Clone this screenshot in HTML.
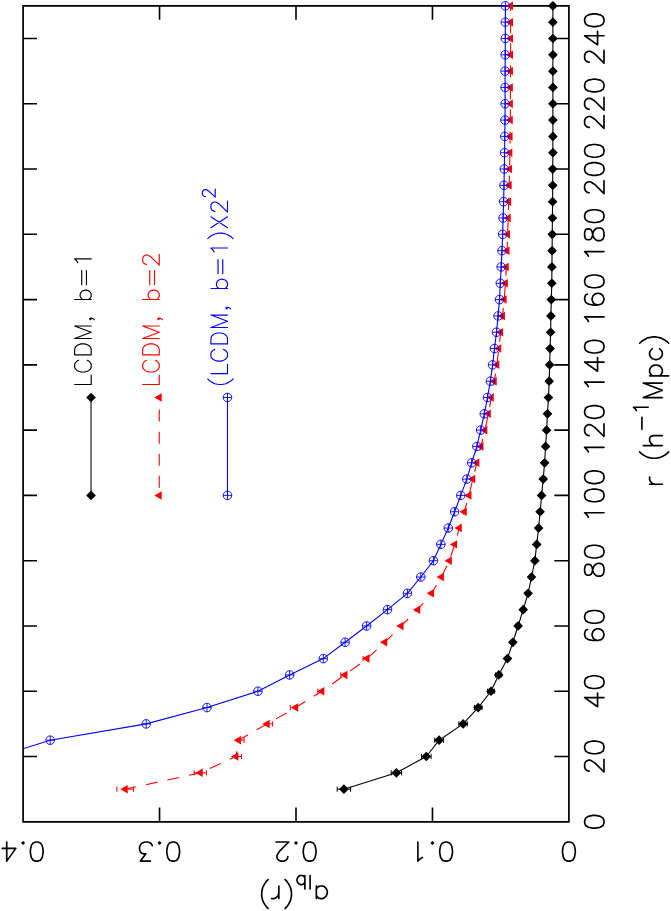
<!DOCTYPE html>
<html><head><meta charset="utf-8"><title>a_lb(r)</title>
<style>html,body{margin:0;padding:0;background:#fff;font-family:"Liberation Sans",sans-serif}svg{display:block}</style>
</head><body>
<svg width="671" height="911" viewBox="0 0 671 911">
<rect x="0" y="0" width="671" height="911" fill="#fff"/>
<defs><clipPath id="cp"><rect x="23.1" y="-0.15" width="545.8" height="821.95"/></clipPath></defs>
<path d="M23.1 5.85 H568.9 V821.8 H23.1 Z" fill="none" stroke="#000" stroke-width="1.7" stroke-linejoin="miter"/>
<path d="M23.1 756.52h13.9 M568.9 756.52h-14.6 M23.1 691.25h13.9 M568.9 691.25h-14.6 M23.1 625.97h13.9 M568.9 625.97h-14.6 M23.1 560.7h13.9 M568.9 560.7h-14.6 M23.1 495.42h13.9 M568.9 495.42h-14.6 M23.1 430.14h13.9 M568.9 430.14h-14.6 M23.1 364.87h13.9 M568.9 364.87h-14.6 M23.1 299.59h13.9 M568.9 299.59h-14.6 M23.1 234.32h13.9 M568.9 234.32h-14.6 M23.1 169.04h13.9 M568.9 169.04h-14.6 M23.1 103.76h13.9 M568.9 103.76h-14.6 M23.1 38.49h13.9 M568.9 38.49h-14.6 M432.45 5.85v13.9 M432.45 821.8v-14.2 M296 5.85v13.9 M296 821.8v-14.2 M159.55 5.85v13.9 M159.55 821.8v-14.2" fill="none" stroke="#000" stroke-width="1.6" stroke-linecap="butt"/>
<path d="M584.64 822.71 L585.56 825.44 L588.33 827.26 L592.94 828.17 L595.7 828.17 L600.31 827.26 L603.08 825.44 L604 822.71 L604 820.89 L603.08 818.16 L600.31 816.34 L595.7 815.43 L592.94 815.43 L588.33 816.34 L585.56 818.16 L584.64 820.89 L584.64 822.71 M589.25 771.08 L588.33 771.08 L586.48 770.17 L585.56 769.26 L584.64 767.44 L584.64 763.8 L585.56 761.98 L586.48 761.07 L588.33 760.16 L590.17 760.16 L592.01 761.07 L594.78 762.89 L604 771.99 L604 759.25 M584.64 748.33 L585.56 751.06 L588.33 752.88 L592.94 753.79 L595.7 753.79 L600.31 752.88 L603.08 751.06 L604 748.33 L604 746.51 L603.08 743.78 L600.31 741.96 L595.7 741.05 L592.94 741.05 L588.33 741.96 L585.56 743.78 L584.64 746.51 L584.64 748.33 M584.64 697.62 L597.55 706.72 L597.55 693.07 M584.64 697.62 L604 697.62 M584.64 683.06 L585.56 685.79 L588.33 687.61 L592.94 688.52 L595.7 688.52 L600.31 687.61 L603.08 685.79 L604 683.06 L604 681.24 L603.08 678.51 L600.31 676.69 L595.7 675.78 L592.94 675.78 L588.33 676.69 L585.56 678.51 L584.64 681.24 L584.64 683.06 M587.4 629.61 L585.56 630.52 L584.64 633.25 L584.64 635.07 L585.56 637.8 L588.33 639.62 L592.94 640.53 L597.55 640.53 L601.23 639.62 L603.08 637.8 L604 635.07 L604 634.16 L603.08 631.43 L601.23 629.61 L598.47 628.7 L597.55 628.7 L594.78 629.61 L592.94 631.43 L592.01 634.16 L592.01 635.07 L592.94 637.8 L594.78 639.62 L597.55 640.53 M584.64 617.78 L585.56 620.51 L588.33 622.33 L592.94 623.24 L595.7 623.24 L600.31 622.33 L603.08 620.51 L604 617.78 L604 615.96 L603.08 613.23 L600.31 611.41 L595.7 610.5 L592.94 610.5 L588.33 611.41 L585.56 613.23 L584.64 615.96 L584.64 617.78 M584.64 571.62 L585.56 574.35 L587.4 575.26 L589.25 575.26 L591.09 574.35 L592.01 572.53 L592.94 568.89 L593.86 566.16 L595.7 564.34 L597.55 563.43 L600.31 563.43 L602.16 564.34 L603.08 565.25 L604 567.98 L604 571.62 L603.08 574.35 L602.16 575.26 L600.31 576.17 L597.55 576.17 L595.7 575.26 L593.86 573.44 L592.94 570.71 L592.01 567.07 L591.09 565.25 L589.25 564.34 L587.4 564.34 L585.56 565.25 L584.64 567.98 L584.64 571.62 M584.64 552.51 L585.56 555.24 L588.33 557.06 L592.94 557.97 L595.7 557.97 L600.31 557.06 L603.08 555.24 L604 552.51 L604 550.69 L603.08 547.96 L600.31 546.14 L595.7 545.23 L592.94 545.23 L588.33 546.14 L585.56 547.96 L584.64 550.69 L584.64 552.51 M588.33 517.26 L587.4 515.44 L584.64 512.71 L604 512.71 M584.64 496.33 L585.56 499.06 L588.33 500.88 L592.94 501.79 L595.7 501.79 L600.31 500.88 L603.08 499.06 L604 496.33 L604 494.51 L603.08 491.78 L600.31 489.96 L595.7 489.05 L592.94 489.05 L588.33 489.96 L585.56 491.78 L584.64 494.51 L584.64 496.33 M584.64 478.13 L585.56 480.86 L588.33 482.68 L592.94 483.59 L595.7 483.59 L600.31 482.68 L603.08 480.86 L604 478.13 L604 476.31 L603.08 473.58 L600.31 471.76 L595.7 470.85 L592.94 470.85 L588.33 471.76 L585.56 473.58 L584.64 476.31 L584.64 478.13 M588.33 451.98 L587.4 450.16 L584.64 447.43 L604 447.43 M589.25 435.6 L588.33 435.6 L586.48 434.69 L585.56 433.78 L584.64 431.96 L584.64 428.32 L585.56 426.5 L586.48 425.59 L588.33 424.68 L590.17 424.68 L592.01 425.59 L594.78 427.41 L604 436.51 L604 423.77 M584.64 412.85 L585.56 415.58 L588.33 417.4 L592.94 418.31 L595.7 418.31 L600.31 417.4 L603.08 415.58 L604 412.85 L604 411.03 L603.08 408.3 L600.31 406.48 L595.7 405.57 L592.94 405.57 L588.33 406.48 L585.56 408.3 L584.64 411.03 L584.64 412.85 M588.33 386.71 L587.4 384.89 L584.64 382.16 L604 382.16 M584.64 362.14 L597.55 371.24 L597.55 357.59 M584.64 362.14 L604 362.14 M584.64 347.58 L585.56 350.31 L588.33 352.13 L592.94 353.04 L595.7 353.04 L600.31 352.13 L603.08 350.31 L604 347.58 L604 345.76 L603.08 343.03 L600.31 341.21 L595.7 340.3 L592.94 340.3 L588.33 341.21 L585.56 343.03 L584.64 345.76 L584.64 347.58 M588.33 321.43 L587.4 319.61 L584.64 316.88 L604 316.88 M587.4 294.13 L585.56 295.04 L584.64 297.77 L584.64 299.59 L585.56 302.32 L588.33 304.14 L592.94 305.05 L597.55 305.05 L601.23 304.14 L603.08 302.32 L604 299.59 L604 298.68 L603.08 295.95 L601.23 294.13 L598.47 293.22 L597.55 293.22 L594.78 294.13 L592.94 295.95 L592.01 298.68 L592.01 299.59 L592.94 302.32 L594.78 304.14 L597.55 305.05 M584.64 282.3 L585.56 285.03 L588.33 286.85 L592.94 287.76 L595.7 287.76 L600.31 286.85 L603.08 285.03 L604 282.3 L604 280.48 L603.08 277.75 L600.31 275.93 L595.7 275.02 L592.94 275.02 L588.33 275.93 L585.56 277.75 L584.64 280.48 L584.64 282.3 M588.33 256.16 L587.4 254.34 L584.64 251.61 L604 251.61 M584.64 236.14 L585.56 238.87 L587.4 239.78 L589.25 239.78 L591.09 238.87 L592.01 237.05 L592.94 233.41 L593.86 230.68 L595.7 228.86 L597.55 227.95 L600.31 227.95 L602.16 228.86 L603.08 229.77 L604 232.5 L604 236.14 L603.08 238.87 L602.16 239.78 L600.31 240.69 L597.55 240.69 L595.7 239.78 L593.86 237.96 L592.94 235.23 L592.01 231.59 L591.09 229.77 L589.25 228.86 L587.4 228.86 L585.56 229.77 L584.64 232.5 L584.64 236.14 M584.64 217.03 L585.56 219.76 L588.33 221.58 L592.94 222.49 L595.7 222.49 L600.31 221.58 L603.08 219.76 L604 217.03 L604 215.21 L603.08 212.48 L600.31 210.66 L595.7 209.75 L592.94 209.75 L588.33 210.66 L585.56 212.48 L584.64 215.21 L584.64 217.03 M589.25 192.7 L588.33 192.7 L586.48 191.79 L585.56 190.88 L584.64 189.06 L584.64 185.42 L585.56 183.6 L586.48 182.69 L588.33 181.78 L590.17 181.78 L592.01 182.69 L594.78 184.51 L604 193.61 L604 180.87 M584.64 169.95 L585.56 172.68 L588.33 174.5 L592.94 175.41 L595.7 175.41 L600.31 174.5 L603.08 172.68 L604 169.95 L604 168.13 L603.08 165.4 L600.31 163.58 L595.7 162.67 L592.94 162.67 L588.33 163.58 L585.56 165.4 L584.64 168.13 L584.64 169.95 M584.64 151.75 L585.56 154.48 L588.33 156.3 L592.94 157.21 L595.7 157.21 L600.31 156.3 L603.08 154.48 L604 151.75 L604 149.93 L603.08 147.2 L600.31 145.38 L595.7 144.47 L592.94 144.47 L588.33 145.38 L585.56 147.2 L584.64 149.93 L584.64 151.75 M589.25 127.42 L588.33 127.42 L586.48 126.51 L585.56 125.6 L584.64 123.78 L584.64 120.14 L585.56 118.32 L586.48 117.41 L588.33 116.5 L590.17 116.5 L592.01 117.41 L594.78 119.23 L604 128.33 L604 115.59 M589.25 109.22 L588.33 109.22 L586.48 108.31 L585.56 107.4 L584.64 105.58 L584.64 101.94 L585.56 100.12 L586.48 99.21 L588.33 98.3 L590.17 98.3 L592.01 99.21 L594.78 101.03 L604 110.13 L604 97.39 M584.64 86.47 L585.56 89.2 L588.33 91.02 L592.94 91.93 L595.7 91.93 L600.31 91.02 L603.08 89.2 L604 86.47 L604 84.65 L603.08 81.92 L600.31 80.1 L595.7 79.19 L592.94 79.19 L588.33 80.1 L585.56 81.92 L584.64 84.65 L584.64 86.47 M589.25 62.15 L588.33 62.15 L586.48 61.24 L585.56 60.33 L584.64 58.51 L584.64 54.87 L585.56 53.05 L586.48 52.14 L588.33 51.23 L590.17 51.23 L592.01 52.14 L594.78 53.96 L604 63.06 L604 50.32 M584.64 35.76 L597.55 44.86 L597.55 31.21 M584.64 35.76 L604 35.76 M584.64 21.2 L585.56 23.93 L588.33 25.75 L592.94 26.66 L595.7 26.66 L600.31 25.75 L603.08 23.93 L604 21.2 L604 19.38 L603.08 16.65 L600.31 14.83 L595.7 13.92 L592.94 13.92 L588.33 14.83 L585.56 16.65 L584.64 19.38 L584.64 21.2" fill="none" stroke="#000" stroke-width="1.65" stroke-linecap="round" stroke-linejoin="round"/>
<path d="M569.81 861.11 L572.54 860.2 L574.36 857.47 L575.27 852.92 L575.27 850.19 L574.36 845.64 L572.54 842.91 L569.81 842 L567.99 842 L565.26 842.91 L563.44 845.64 L562.53 850.19 L562.53 852.92 L563.44 857.47 L565.26 860.2 L567.99 861.11 L569.81 861.11 M447.01 861.11 L449.74 860.2 L451.56 857.47 L452.47 852.92 L452.47 850.19 L451.56 845.64 L449.74 842.91 L447.01 842 L445.19 842 L442.46 842.91 L440.64 845.64 L439.73 850.19 L439.73 852.92 L440.64 857.47 L442.46 860.2 L445.19 861.11 L447.01 861.11 M432.45 843.82 L433.36 842.91 L432.45 842 L431.54 842.91 L432.45 843.82 M422.44 857.47 L420.62 858.38 L417.89 861.11 L417.89 842 M310.56 861.11 L313.29 860.2 L315.11 857.47 L316.02 852.92 L316.02 850.19 L315.11 845.64 L313.29 842.91 L310.56 842 L308.74 842 L306.01 842.91 L304.19 845.64 L303.28 850.19 L303.28 852.92 L304.19 857.47 L306.01 860.2 L308.74 861.11 L310.56 861.11 M296 843.82 L296.91 842.91 L296 842 L295.09 842.91 L296 843.82 M287.81 856.56 L287.81 857.47 L286.9 859.29 L285.99 860.2 L284.17 861.11 L280.53 861.11 L278.71 860.2 L277.8 859.29 L276.89 857.47 L276.89 855.65 L277.8 853.83 L279.62 851.1 L288.72 842 L275.98 842 M174.11 861.11 L176.84 860.2 L178.66 857.47 L179.57 852.92 L179.57 850.19 L178.66 845.64 L176.84 842.91 L174.11 842 L172.29 842 L169.56 842.91 L167.74 845.64 L166.83 850.19 L166.83 852.92 L167.74 857.47 L169.56 860.2 L172.29 861.11 L174.11 861.11 M159.55 843.82 L160.46 842.91 L159.55 842 L158.64 842.91 L159.55 843.82 M150.45 861.11 L140.44 861.11 L145.9 853.83 L143.17 853.83 L141.35 852.92 L140.44 852.01 L139.53 849.28 L139.53 847.46 L140.44 844.73 L142.26 842.91 L144.99 842 L147.72 842 L150.45 842.91 L151.36 843.82 L152.27 845.64 M37.66 861.11 L40.39 860.2 L42.21 857.47 L43.12 852.92 L43.12 850.19 L42.21 845.64 L40.39 842.91 L37.66 842 L35.84 842 L33.11 842.91 L31.29 845.64 L30.38 850.19 L30.38 852.92 L31.29 857.47 L33.11 860.2 L35.84 861.11 L37.66 861.11 M23.1 843.82 L24.01 842.91 L23.1 842 L22.19 842.91 L23.1 843.82 M6.72 861.11 L15.82 848.37 L2.17 848.37 M6.72 861.11 L6.72 842" fill="none" stroke="#000" stroke-width="1.65" stroke-linecap="round" stroke-linejoin="round"/>
<path d="M649.63 484.28 L662.3 484.28 M655.06 484.28 L652.34 483.38 L650.53 481.56 L649.63 479.75 L649.63 477.04 M639.67 451.94 L641.48 453.75 L644.2 455.56 L647.82 457.38 L652.34 458.28 L655.96 458.28 L660.49 457.38 L664.11 455.56 L666.82 453.75 L668.63 451.94 M643.29 445.58 L662.3 445.58 M653.25 445.58 L650.53 442.87 L649.63 441.06 L649.63 438.34 L650.53 436.53 L653.25 435.62 L662.3 435.62 M641.9 429.32 L641.9 417.26 M636.3 410.56 L635.6 409.22 L633.5 407.21 L648.2 407.21 M643.29 397.58 L662.3 397.58 M643.29 397.58 L662.3 390.34 M643.29 383.1 L662.3 390.34 M643.29 383.1 L662.3 383.1 M649.63 375.86 L668.63 375.86 M652.34 375.86 L650.53 374.05 L649.63 372.24 L649.63 369.52 L650.53 367.71 L652.34 365.9 L655.06 365 L656.87 365 L659.58 365.9 L661.39 367.71 L662.3 369.52 L662.3 372.24 L661.39 374.05 L659.58 375.86 M652.34 348.71 L650.53 350.52 L649.63 352.33 L649.63 355.04 L650.53 356.86 L652.34 358.66 L655.06 359.57 L656.87 359.57 L659.58 358.66 L661.39 356.86 L662.3 355.04 L662.3 352.33 L661.39 350.52 L659.58 348.71 M639.67 343.28 L641.48 341.47 L644.2 339.66 L647.82 337.85 L652.34 336.94 L655.96 336.94 L660.49 337.85 L664.11 339.66 L666.82 341.47 L668.63 343.28" fill="none" stroke="#000" stroke-width="1.65" stroke-linecap="round" stroke-linejoin="round"/>
<path d="M316.35 898.55 L316.35 885.95 M316.35 895.85 L318.17 897.65 L319.99 898.55 L322.72 898.55 L324.54 897.65 L326.36 895.85 L327.27 893.15 L327.27 891.35 L326.36 888.65 L324.54 886.85 L322.72 885.95 L319.99 885.95 L318.17 886.85 L316.35 888.65 M310.09 889.1 L310.09 875.45 M304.88 889.1 L304.88 875.45 M304.88 882.6 L303.57 883.9 L302.27 884.55 L300.31 884.55 L299.01 883.9 L297.7 882.6 L297.05 880.65 L297.05 879.35 L297.7 877.4 L299.01 876.1 L300.31 875.45 L302.27 875.45 L303.57 876.1 L304.88 877.4 M285.09 908.45 L286.91 906.65 L288.73 903.95 L290.55 900.35 L291.46 895.85 L291.46 892.25 L290.55 887.75 L288.73 884.15 L286.91 881.45 L285.09 879.65 M278.86 898.55 L278.86 885.95 M278.86 893.15 L277.95 895.85 L276.13 897.65 L274.31 898.55 L271.58 898.55 M268.07 908.45 L266.25 906.65 L264.43 903.95 L262.61 900.35 L261.7 895.85 L261.7 892.25 L262.61 887.75 L264.43 884.15 L266.25 881.45 L268.07 879.65" fill="none" stroke="#000" stroke-width="1.65" stroke-linecap="round" stroke-linejoin="round"/>
<polyline points="343.9,789.16 396.4,772.84 426.3,756.52 439.1,740.2 463.1,723.89 478.2,707.57 491,691.25 498.7,674.93 507.45,658.61 512.8,642.29 518.1,625.97 523.2,609.65 528.1,593.33 531.5,577.01 534.85,560.7 536.7,544.38 538.6,528.06 540.1,511.74 541.6,495.42 543.2,479.1 544.6,462.78 545.6,446.46 546.6,430.14 547.5,413.82 548.4,397.51 549.2,381.19 549.65,364.87 550.1,348.55 550.6,332.23 550.9,315.91 551.3,299.59 551.8,283.27 551.9,266.95 552.1,250.63 552.25,234.32 552.4,218 552.6,201.68 552.7,185.36 552.7,169.04 552.9,152.72 552.9,136.4 552.9,120.08 552.9,103.76 552.9,87.45 552.9,71.13 552.9,54.81 552.9,38.49 552.9,22.17 552.9,5.85" fill="none" stroke="#000" stroke-width="1.1" stroke-linejoin="round"/>
<path d="M337.2 789.16H350.6 M337.2 786.56v5.2 M350.6 786.56v5.2 M391.2 772.84H401.6 M391.2 770.24v5.2 M401.6 770.24v5.2 M421.5 756.52H431.1 M421.5 753.92v5.2 M431.1 753.92v5.2 M434.7 740.2H443.5 M434.7 737.6v5.2 M443.5 737.6v5.2 M458.9 723.89H467.3 M458.9 721.29v5.2 M467.3 721.29v5.2 M474.4 707.57H482 M474.4 704.97v5.2 M482 704.97v5.2 M487.6 691.25H494.4 M487.6 688.65v5.2 M494.4 688.65v5.2 M495.7 674.93H501.7 M495.7 672.33v5.2 M501.7 672.33v5.2 M505.65 658.61H509.25 M505.65 656.01v5.2 M509.25 656.01v5.2 M511 642.29H514.6 M511 639.69v5.2 M514.6 639.69v5.2 M516.3 625.97H519.9 M516.3 623.37v5.2 M519.9 623.37v5.2 M521.4 609.65H525 M521.4 607.05v5.2 M525 607.05v5.2 M526.3 593.33H529.9 M526.3 590.73v5.2 M529.9 590.73v5.2 M529.7 577.01H533.3 M529.7 574.41v5.2 M533.3 574.41v5.2 M533.05 560.7H536.65 M533.05 558.1v5.2 M536.65 558.1v5.2 M534.9 544.38H538.5 M534.9 541.78v5.2 M538.5 541.78v5.2 M536.8 528.06H540.4 M536.8 525.46v5.2 M540.4 525.46v5.2 M538.3 511.74H541.9 M538.3 509.14v5.2 M541.9 509.14v5.2 M539.8 495.42H543.4 M539.8 492.82v5.2 M543.4 492.82v5.2 M541.4 479.1H545 M541.4 476.5v5.2 M545 476.5v5.2 M542.8 462.78H546.4 M542.8 460.18v5.2 M546.4 460.18v5.2 M543.8 446.46H547.4 M543.8 443.86v5.2 M547.4 443.86v5.2 M544.8 430.14H548.4 M544.8 427.54v5.2 M548.4 427.54v5.2 M545.7 413.82H549.3 M545.7 411.22v5.2 M549.3 411.22v5.2 M546.6 397.51H550.2 M546.6 394.91v5.2 M550.2 394.91v5.2 M547.4 381.19H551 M547.4 378.59v5.2 M551 378.59v5.2 M547.85 364.87H551.45 M547.85 362.27v5.2 M551.45 362.27v5.2 M548.3 348.55H551.9 M548.3 345.95v5.2 M551.9 345.95v5.2 M548.8 332.23H552.4 M548.8 329.63v5.2 M552.4 329.63v5.2 M549.1 315.91H552.7 M549.1 313.31v5.2 M552.7 313.31v5.2 M549.5 299.59H553.1 M549.5 296.99v5.2 M553.1 296.99v5.2 M550 283.27H553.6 M550 280.67v5.2 M553.6 280.67v5.2 M550.1 266.95H553.7 M550.1 264.35v5.2 M553.7 264.35v5.2 M550.3 250.63H553.9 M550.3 248.03v5.2 M553.9 248.03v5.2 M550.45 234.32H554.05 M550.45 231.72v5.2 M554.05 231.72v5.2 M550.6 218H554.2 M550.6 215.4v5.2 M554.2 215.4v5.2 M550.8 201.68H554.4 M550.8 199.08v5.2 M554.4 199.08v5.2 M550.9 185.36H554.5 M550.9 182.76v5.2 M554.5 182.76v5.2 M550.9 169.04H554.5 M550.9 166.44v5.2 M554.5 166.44v5.2 M551.1 152.72H554.7 M551.1 150.12v5.2 M554.7 150.12v5.2 M551.1 136.4H554.7 M551.1 133.8v5.2 M554.7 133.8v5.2 M551.1 120.08H554.7 M551.1 117.48v5.2 M554.7 117.48v5.2 M551.1 103.76H554.7 M551.1 101.16v5.2 M554.7 101.16v5.2 M551.1 87.45H554.7 M551.1 84.85v5.2 M554.7 84.85v5.2 M551.1 71.13H554.7 M551.1 68.53v5.2 M554.7 68.53v5.2 M551.1 54.81H554.7 M551.1 52.21v5.2 M554.7 52.21v5.2 M551.1 38.49H554.7 M551.1 35.89v5.2 M554.7 35.89v5.2 M551.1 22.17H554.7 M551.1 19.57v5.2 M554.7 19.57v5.2 M551.1 5.85H554.7 M551.1 3.25v5.2 M554.7 3.25v5.2" fill="none" stroke="#000" stroke-width="1"/>
<path d="M339.05 789.16L343.9 784.31L348.75 789.16L343.9 794.01Z M391.55 772.84L396.4 767.99L401.25 772.84L396.4 777.69Z M421.45 756.52L426.3 751.67L431.15 756.52L426.3 761.37Z M434.25 740.2L439.1 735.35L443.95 740.2L439.1 745.05Z M458.25 723.89L463.1 719.04L467.95 723.89L463.1 728.74Z M473.35 707.57L478.2 702.72L483.05 707.57L478.2 712.42Z M486.15 691.25L491 686.4L495.85 691.25L491 696.1Z M493.85 674.93L498.7 670.08L503.55 674.93L498.7 679.78Z M502.6 658.61L507.45 653.76L512.3 658.61L507.45 663.46Z M507.95 642.29L512.8 637.44L517.65 642.29L512.8 647.14Z M513.25 625.97L518.1 621.12L522.95 625.97L518.1 630.82Z M518.35 609.65L523.2 604.8L528.05 609.65L523.2 614.5Z M523.25 593.33L528.1 588.48L532.95 593.33L528.1 598.18Z M526.65 577.01L531.5 572.16L536.35 577.01L531.5 581.87Z M530 560.7L534.85 555.85L539.7 560.7L534.85 565.55Z M531.85 544.38L536.7 539.53L541.55 544.38L536.7 549.23Z M533.75 528.06L538.6 523.21L543.45 528.06L538.6 532.91Z M535.25 511.74L540.1 506.89L544.95 511.74L540.1 516.59Z M536.75 495.42L541.6 490.57L546.45 495.42L541.6 500.27Z M538.35 479.1L543.2 474.25L548.05 479.1L543.2 483.95Z M539.75 462.78L544.6 457.93L549.45 462.78L544.6 467.63Z M540.75 446.46L545.6 441.61L550.45 446.46L545.6 451.31Z M541.75 430.14L546.6 425.29L551.45 430.14L546.6 434.99Z M542.65 413.82L547.5 408.97L552.35 413.82L547.5 418.68Z M543.55 397.51L548.4 392.66L553.25 397.51L548.4 402.36Z M544.35 381.19L549.2 376.34L554.05 381.19L549.2 386.04Z M544.8 364.87L549.65 360.02L554.5 364.87L549.65 369.72Z M545.25 348.55L550.1 343.7L554.95 348.55L550.1 353.4Z M545.75 332.23L550.6 327.38L555.45 332.23L550.6 337.08Z M546.05 315.91L550.9 311.06L555.75 315.91L550.9 320.76Z M546.45 299.59L551.3 294.74L556.15 299.59L551.3 304.44Z M546.95 283.27L551.8 278.42L556.65 283.27L551.8 288.12Z M547.05 266.95L551.9 262.1L556.75 266.95L551.9 271.8Z M547.25 250.63L552.1 245.78L556.95 250.63L552.1 255.48Z M547.4 234.32L552.25 229.47L557.1 234.32L552.25 239.17Z M547.55 218L552.4 213.15L557.25 218L552.4 222.85Z M547.75 201.68L552.6 196.83L557.45 201.68L552.6 206.53Z M547.85 185.36L552.7 180.51L557.55 185.36L552.7 190.21Z M547.85 169.04L552.7 164.19L557.55 169.04L552.7 173.89Z M548.05 152.72L552.9 147.87L557.75 152.72L552.9 157.57Z M548.05 136.4L552.9 131.55L557.75 136.4L552.9 141.25Z M548.05 120.08L552.9 115.23L557.75 120.08L552.9 124.93Z M548.05 103.76L552.9 98.91L557.75 103.76L552.9 108.61Z M548.05 87.45L552.9 82.6L557.75 87.45L552.9 92.3Z M548.05 71.13L552.9 66.28L557.75 71.13L552.9 75.98Z M548.05 54.81L552.9 49.96L557.75 54.81L552.9 59.66Z M548.05 38.49L552.9 33.64L557.75 38.49L552.9 43.34Z M548.05 22.17L552.9 17.32L557.75 22.17L552.9 27.02Z M548.05 5.85L552.9 1L557.75 5.85L552.9 10.7Z" fill="#000"/>
<polyline points="125.2,789.16 200.3,772.84 235.9,756.52 238.6,740.2 267.2,723.89 295.7,707.57 321.9,691.25 345,674.93 367,658.61 384.8,642.29 401.1,625.97 417.8,609.65 431.6,593.33 441.4,577.01 449.4,560.7 454.7,544.38 459.3,528.06 464.3,511.74 469,495.42 472.8,479.1 476.9,462.78 481,446.46 484.9,430.14 488.4,413.82 491.35,397.51 494.3,381.19 496.9,364.87 498.8,348.55 500.7,332.23 502.5,315.91 504.15,299.59 505.45,283.27 506.3,266.95 507.1,250.63 507.6,234.32 508.25,218 508.7,201.68 509.2,185.36 509.6,169.04 509.9,152.72 510.1,136.4 510.3,120.08 510.4,103.76 510.4,87.45 510.5,71.13 510.6,54.81 510.6,38.49 510.6,22.17 510.6,5.85" fill="none" stroke="#f00" stroke-width="1.1" stroke-dasharray="12 10.07" stroke-dashoffset="1" stroke-linejoin="round"/>
<path d="M116.9 786.56v5.2 M125.2 789.16H133.5 M133.5 786.56v5.2 M194.2 772.84H200.3 M194.2 770.24v5.2 M200.3 772.84H206.4 M206.4 770.24v5.2 M235.9 756.52H241.5 M241.5 753.92v5.2 M238.6 740.2H244.1 M244.1 737.6v5.2 M267.2 723.89H272.6 M272.6 721.29v5.2 M290.3 704.97v5.2 M317.8 688.65v5.2 M340.8 672.33v5.2 M363.1 656.01v5.2                                        " fill="none" stroke="#f00" stroke-width="1"/>
<path d="M120.3 789.16L127.65 784.92L127.65 793.41Z M195.4 772.84L202.75 768.6L202.75 777.09Z M231 756.52L238.35 752.28L238.35 760.77Z M233.7 740.2L241.05 735.96L241.05 744.45Z M262.3 723.89L269.65 719.64L269.65 728.13Z M290.8 707.57L298.15 703.32L298.15 711.81Z M317 691.25L324.35 687L324.35 695.49Z M340.1 674.93L347.45 670.69L347.45 679.17Z M362.1 658.61L369.45 654.37L369.45 662.85Z M379.9 642.29L387.25 638.05L387.25 646.53Z M396.2 625.97L403.55 621.73L403.55 630.22Z M412.9 609.65L420.25 605.41L420.25 613.9Z M426.7 593.33L434.05 589.09L434.05 597.58Z M436.5 577.01L443.85 572.77L443.85 581.26Z M444.5 560.7L451.85 556.45L451.85 564.94Z M449.8 544.38L457.15 540.13L457.15 548.62Z M454.4 528.06L461.75 523.81L461.75 532.3Z M459.4 511.74L466.75 507.5L466.75 515.98Z M464.1 495.42L471.45 491.18L471.45 499.66Z M467.9 479.1L475.25 474.86L475.25 483.34Z M472 462.78L479.35 458.54L479.35 467.03Z M476.1 446.46L483.45 442.22L483.45 450.71Z M480 430.14L487.35 425.9L487.35 434.39Z M483.5 413.82L490.85 409.58L490.85 418.07Z M486.45 397.51L493.8 393.26L493.8 401.75Z M489.4 381.19L496.75 376.94L496.75 385.43Z M492 364.87L499.35 360.62L499.35 369.11Z M493.9 348.55L501.25 344.31L501.25 352.79Z M495.8 332.23L503.15 327.99L503.15 336.47Z M497.6 315.91L504.95 311.67L504.95 320.15Z M499.25 299.59L506.6 295.35L506.6 303.84Z M500.55 283.27L507.9 279.03L507.9 287.52Z M501.4 266.95L508.75 262.71L508.75 271.2Z M502.2 250.63L509.55 246.39L509.55 254.88Z M502.7 234.32L510.05 230.07L510.05 238.56Z M503.35 218L510.7 213.75L510.7 222.24Z M503.8 201.68L511.15 197.43L511.15 205.92Z M504.3 185.36L511.65 181.12L511.65 189.6Z M504.7 169.04L512.05 164.8L512.05 173.28Z M505 152.72L512.35 148.48L512.35 156.96Z M505.2 136.4L512.55 132.16L512.55 140.65Z M505.4 120.08L512.75 115.84L512.75 124.33Z M505.5 103.76L512.85 99.52L512.85 108.01Z M505.5 87.45L512.85 83.2L512.85 91.69Z M505.6 71.13L512.95 66.88L512.95 75.37Z M505.7 54.81L513.05 50.56L513.05 59.05Z M505.7 38.49L513.05 34.24L513.05 42.73Z M505.7 22.17L513.05 17.93L513.05 26.41Z M505.7 5.85L513.05 1.61L513.05 10.09Z" fill="#f00"/>
<g clip-path="url(#cp)"><polyline points="-331.1,789.16 -121.1,772.84 -1.5,756.52 50.2,740.2 146.2,723.89 207,707.57 257.9,691.25 289.6,674.93 323.3,658.61 345.1,642.29 366.6,625.97 387.5,609.65 407.4,593.33 420.8,577.01 433.45,560.7 440.85,544.38 448.3,528.06 454.6,511.74 460.8,495.42 466.8,479.1 471.7,462.78 476.9,446.46 480.7,430.14 484.3,413.82 487.5,397.51 490.4,381.19 492.6,364.87 494.5,348.55 496.5,332.23 498.1,315.91 499.55,299.59 500.3,283.27 501.2,266.95 502,250.63 502.65,234.32 503.1,218 503.6,201.68 504,185.36 504.3,169.04 504.6,152.72 504.8,136.4 505,120.08 505.1,103.76 505.1,87.45 505.1,71.13 505.2,54.81 505.3,38.49 505.3,22.17 505.4,5.85" fill="none" stroke="#00f" stroke-width="1.1" stroke-linejoin="round"/></g>
<g fill="none" stroke="#00f" stroke-width="0.9"><circle cx="50.2" cy="740.2" r="4.3"/><path d="M45.9 740.2h8.6 M50.2 735.9v8.6"/><circle cx="146.2" cy="723.89" r="4.3"/><path d="M141.9 723.89h8.6 M146.2 719.59v8.6"/><circle cx="207" cy="707.57" r="4.3"/><path d="M202.7 707.57h8.6 M207 703.27v8.6"/><circle cx="257.9" cy="691.25" r="4.3"/><path d="M253.6 691.25h8.6 M257.9 686.95v8.6"/><circle cx="289.6" cy="674.93" r="4.3"/><path d="M285.3 674.93h8.6 M289.6 670.63v8.6"/><circle cx="323.3" cy="658.61" r="4.3"/><path d="M319 658.61h8.6 M323.3 654.31v8.6"/><circle cx="345.1" cy="642.29" r="4.3"/><path d="M340.8 642.29h8.6 M345.1 637.99v8.6"/><circle cx="366.6" cy="625.97" r="4.3"/><path d="M362.3 625.97h8.6 M366.6 621.67v8.6"/><circle cx="387.5" cy="609.65" r="4.3"/><path d="M383.2 609.65h8.6 M387.5 605.35v8.6"/><circle cx="407.4" cy="593.33" r="4.3"/><path d="M403.1 593.33h8.6 M407.4 589.03v8.6"/><circle cx="420.8" cy="577.01" r="4.3"/><path d="M416.5 577.01h8.6 M420.8 572.72v8.6"/><circle cx="433.45" cy="560.7" r="4.3"/><path d="M429.15 560.7h8.6 M433.45 556.4v8.6"/><circle cx="440.85" cy="544.38" r="4.3"/><path d="M436.55 544.38h8.6 M440.85 540.08v8.6"/><circle cx="448.3" cy="528.06" r="4.3"/><path d="M444 528.06h8.6 M448.3 523.76v8.6"/><circle cx="454.6" cy="511.74" r="4.3"/><path d="M450.3 511.74h8.6 M454.6 507.44v8.6"/><circle cx="460.8" cy="495.42" r="4.3"/><path d="M456.5 495.42h8.6 M460.8 491.12v8.6"/><circle cx="466.8" cy="479.1" r="4.3"/><path d="M462.5 479.1h8.6 M466.8 474.8v8.6"/><circle cx="471.7" cy="462.78" r="4.3"/><path d="M467.4 462.78h8.6 M471.7 458.48v8.6"/><circle cx="476.9" cy="446.46" r="4.3"/><path d="M472.6 446.46h8.6 M476.9 442.16v8.6"/><circle cx="480.7" cy="430.14" r="4.3"/><path d="M476.4 430.14h8.6 M480.7 425.84v8.6"/><circle cx="484.3" cy="413.82" r="4.3"/><path d="M480 413.82h8.6 M484.3 409.52v8.6"/><circle cx="487.5" cy="397.51" r="4.3"/><path d="M483.2 397.51h8.6 M487.5 393.21v8.6"/><circle cx="490.4" cy="381.19" r="4.3"/><path d="M486.1 381.19h8.6 M490.4 376.89v8.6"/><circle cx="492.6" cy="364.87" r="4.3"/><path d="M488.3 364.87h8.6 M492.6 360.57v8.6"/><circle cx="494.5" cy="348.55" r="4.3"/><path d="M490.2 348.55h8.6 M494.5 344.25v8.6"/><circle cx="496.5" cy="332.23" r="4.3"/><path d="M492.2 332.23h8.6 M496.5 327.93v8.6"/><circle cx="498.1" cy="315.91" r="4.3"/><path d="M493.8 315.91h8.6 M498.1 311.61v8.6"/><circle cx="499.55" cy="299.59" r="4.3"/><path d="M495.25 299.59h8.6 M499.55 295.29v8.6"/><circle cx="500.3" cy="283.27" r="4.3"/><path d="M496 283.27h8.6 M500.3 278.97v8.6"/><circle cx="501.2" cy="266.95" r="4.3"/><path d="M496.9 266.95h8.6 M501.2 262.65v8.6"/><circle cx="502" cy="250.63" r="4.3"/><path d="M497.7 250.63h8.6 M502 246.33v8.6"/><circle cx="502.65" cy="234.32" r="4.3"/><path d="M498.35 234.32h8.6 M502.65 230.02v8.6"/><circle cx="503.1" cy="218" r="4.3"/><path d="M498.8 218h8.6 M503.1 213.7v8.6"/><circle cx="503.6" cy="201.68" r="4.3"/><path d="M499.3 201.68h8.6 M503.6 197.38v8.6"/><circle cx="504" cy="185.36" r="4.3"/><path d="M499.7 185.36h8.6 M504 181.06v8.6"/><circle cx="504.3" cy="169.04" r="4.3"/><path d="M500 169.04h8.6 M504.3 164.74v8.6"/><circle cx="504.6" cy="152.72" r="4.3"/><path d="M500.3 152.72h8.6 M504.6 148.42v8.6"/><circle cx="504.8" cy="136.4" r="4.3"/><path d="M500.5 136.4h8.6 M504.8 132.1v8.6"/><circle cx="505" cy="120.08" r="4.3"/><path d="M500.7 120.08h8.6 M505 115.78v8.6"/><circle cx="505.1" cy="103.76" r="4.3"/><path d="M500.8 103.76h8.6 M505.1 99.46v8.6"/><circle cx="505.1" cy="87.45" r="4.3"/><path d="M500.8 87.45h8.6 M505.1 83.15v8.6"/><circle cx="505.1" cy="71.13" r="4.3"/><path d="M500.8 71.13h8.6 M505.1 66.83v8.6"/><circle cx="505.2" cy="54.81" r="4.3"/><path d="M500.9 54.81h8.6 M505.2 50.51v8.6"/><circle cx="505.3" cy="38.49" r="4.3"/><path d="M501 38.49h8.6 M505.3 34.19v8.6"/><circle cx="505.3" cy="22.17" r="4.3"/><path d="M501 22.17h8.6 M505.3 17.87v8.6"/><circle cx="505.4" cy="5.85" r="4.3"/><path d="M501.1 5.85h8.6 M505.4 1.55v8.6"/></g>
<path d="M91.03 495.42V397.51" stroke="#000" stroke-width="1.05" fill="none"/>
<path d="M86.18 495.42L91.03 490.57L95.88 495.42L91.03 500.27Z M86.18 397.51L91.03 392.66L95.88 397.51L91.03 402.36Z" fill="#000"/>
<path d="M159.25 397.51V495.42" stroke="#f00" stroke-width="1.1" fill="none" stroke-dasharray="12 10.07" stroke-dashoffset="10"/>
<path d="M154.35 495.42L161.7 491.18L161.7 499.66Z M154.35 397.51L161.7 393.26L161.7 401.75Z" fill="#f00"/>
<path d="M227.48 495.42V397.51" stroke="#00f" stroke-width="1.1" fill="none"/>
<g fill="none" stroke="#00f" stroke-width="0.9"><circle cx="227.48" cy="495.42" r="4.3"/><path d="M223.18 495.42h8.6 M227.48 491.12v8.6"/><circle cx="227.48" cy="397.51" r="4.3"/><path d="M223.18 397.51h8.6 M227.48 393.21v8.6"/></g>
<path d="M74.61 384.48 L91.2 384.48 M91.2 384.48 L91.2 375.12 M78.56 360.3 L76.98 361.08 L75.4 362.64 L74.61 364.2 L74.61 367.32 L75.4 368.88 L76.98 370.44 L78.56 371.22 L80.93 372 L84.88 372 L87.25 371.22 L88.83 370.44 L90.41 368.88 L91.2 367.32 L91.2 364.2 L90.41 362.64 L88.83 361.08 L87.25 360.3 M74.61 354.84 L91.2 354.84 M74.61 354.84 L74.61 349.38 L75.4 347.04 L76.98 345.48 L78.56 344.7 L80.93 343.92 L84.88 343.92 L87.25 344.7 L88.83 345.48 L90.41 347.04 L91.2 349.38 L91.2 354.84 M74.61 338.46 L91.2 338.46 M74.61 338.46 L91.2 332.22 M74.61 325.98 L91.2 332.22 M74.61 325.98 L91.2 325.98 M90.41 318.18 L91.2 318.96 L90.41 319.74 L89.62 318.96 L90.41 318.18 L91.99 318.18 L93.57 318.96 L94.36 319.74 M74.61 299.46 L91.2 299.46 M82.51 299.46 L80.93 297.9 L80.14 296.34 L80.14 294 L80.93 292.44 L82.51 290.88 L84.88 290.1 L86.46 290.1 L88.83 290.88 L90.41 292.44 L91.2 294 L91.2 296.34 L90.41 297.9 L88.83 299.46 M81.72 284.64 L81.72 270.6 M86.46 284.64 L86.46 270.6 M77.77 262.8 L76.98 261.24 L74.61 258.9 L91.2 258.9" fill="none" stroke="#000" stroke-width="1.15" stroke-linecap="round" stroke-linejoin="round"/>
<path d="M142.66 384.48 L159.25 384.48 M159.25 384.48 L159.25 375.12 M146.61 360.3 L145.03 361.08 L143.45 362.64 L142.66 364.2 L142.66 367.32 L143.45 368.88 L145.03 370.44 L146.61 371.22 L148.98 372 L152.93 372 L155.3 371.22 L156.88 370.44 L158.46 368.88 L159.25 367.32 L159.25 364.2 L158.46 362.64 L156.88 361.08 L155.3 360.3 M142.66 354.84 L159.25 354.84 M142.66 354.84 L142.66 349.38 L143.45 347.04 L145.03 345.48 L146.61 344.7 L148.98 343.92 L152.93 343.92 L155.3 344.7 L156.88 345.48 L158.46 347.04 L159.25 349.38 L159.25 354.84 M142.66 338.46 L159.25 338.46 M142.66 338.46 L159.25 332.22 M142.66 325.98 L159.25 332.22 M142.66 325.98 L159.25 325.98 M158.46 318.18 L159.25 318.96 L158.46 319.74 L157.67 318.96 L158.46 318.18 L160.04 318.18 L161.62 318.96 L162.41 319.74 M142.66 299.46 L159.25 299.46 M150.56 299.46 L148.98 297.9 L148.19 296.34 L148.19 294 L148.98 292.44 L150.56 290.88 L152.93 290.1 L154.51 290.1 L156.88 290.88 L158.46 292.44 L159.25 294 L159.25 296.34 L158.46 297.9 L156.88 299.46 M149.77 284.64 L149.77 270.6 M154.51 284.64 L154.51 270.6 M146.61 264.36 L145.82 264.36 L144.24 263.58 L143.45 262.8 L142.66 261.24 L142.66 258.12 L143.45 256.56 L144.24 255.78 L145.82 255 L147.4 255 L148.98 255.78 L151.35 257.34 L159.25 265.14 L159.25 254.22" fill="none" stroke="#f00" stroke-width="1.15" stroke-linecap="round" stroke-linejoin="round"/>
<path d="M207.75 379.02 L209.33 380.58 L211.7 382.14 L214.86 383.7 L218.81 384.48 L221.97 384.48 L225.92 383.7 L229.08 382.14 L231.45 380.58 L233.03 379.02 M210.91 373.56 L227.5 373.56 M227.5 373.56 L227.5 364.2 M214.86 349.38 L213.28 350.16 L211.7 351.72 L210.91 353.28 L210.91 356.4 L211.7 357.96 L213.28 359.52 L214.86 360.3 L217.23 361.08 L221.18 361.08 L223.55 360.3 L225.13 359.52 L226.71 357.96 L227.5 356.4 L227.5 353.28 L226.71 351.72 L225.13 350.16 L223.55 349.38 M210.91 343.92 L227.5 343.92 M210.91 343.92 L210.91 338.46 L211.7 336.12 L213.28 334.56 L214.86 333.78 L217.23 333 L221.18 333 L223.55 333.78 L225.13 334.56 L226.71 336.12 L227.5 338.46 L227.5 343.92 M210.91 327.54 L227.5 327.54 M210.91 327.54 L227.5 321.3 M210.91 315.06 L227.5 321.3 M210.91 315.06 L227.5 315.06 M226.71 307.26 L227.5 308.04 L226.71 308.82 L225.92 308.04 L226.71 307.26 L228.29 307.26 L229.87 308.04 L230.66 308.82 M210.91 288.54 L227.5 288.54 M218.81 288.54 L217.23 286.98 L216.44 285.42 L216.44 283.08 L217.23 281.52 L218.81 279.96 L221.18 279.18 L222.76 279.18 L225.13 279.96 L226.71 281.52 L227.5 283.08 L227.5 285.42 L226.71 286.98 L225.13 288.54 M218.02 273.72 L218.02 259.68 M222.76 273.72 L222.76 259.68 M214.07 251.88 L213.28 250.32 L210.91 247.98 L227.5 247.98 M207.75 238.62 L209.33 237.06 L211.7 235.5 L214.86 233.94 L218.81 233.16 L221.97 233.16 L225.92 233.94 L229.08 235.5 L231.45 237.06 L233.03 238.62 M210.91 227.7 L227.5 216.78 M210.91 216.78 L227.5 227.7 M214.86 211.32 L214.07 211.32 L212.49 210.54 L211.7 209.76 L210.91 208.2 L210.91 205.08 L211.7 203.52 L212.49 202.74 L214.07 201.96 L215.65 201.96 L217.23 202.74 L219.6 204.3 L227.5 212.1 L227.5 201.18 M205.44 196.52 L204.83 196.52 L203.61 195.94 L203 195.36 L202.39 194.2 L202.39 191.88 L203 190.72 L203.61 190.14 L204.83 189.56 L206.05 189.56 L207.27 190.14 L209.1 191.3 L215.2 197.1 L215.2 188.98" fill="none" stroke="#00f" stroke-width="1.15" stroke-linecap="round" stroke-linejoin="round"/>
</svg>
</body></html>
